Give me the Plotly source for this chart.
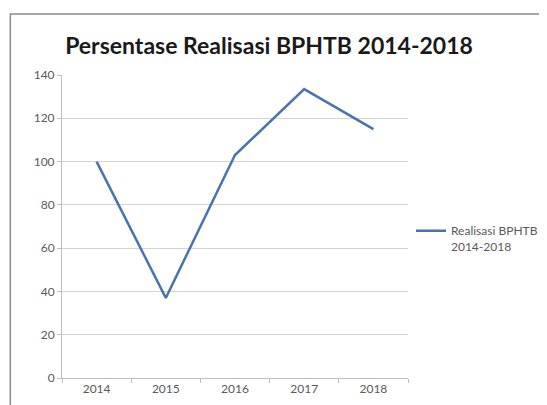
import plotly.graph_objects as go

years = ["2014", "2015", "2016", "2017", "2018"]
realisasi = [100, 37, 103, 133.5, 115]
series_name = "Realisasi BPHTB<br>2014-2018"
title_text = "Persentase Realisasi BPHTB 2014-2018"

# page body has an 8px margin; work in screen coords and shift
OFF = 8
W, H = 547, 405
SL, SR, ST, SB = 62, 410, 75, 378  # plot area in screen coords
L = SL - OFF
T = ST - OFF
R = W - (SR - OFF)
B = H - (SB - OFF)
pw, ph = W - L - R, H - T - B

def px(x):
    return (x - OFF - L) / pw

def py(y):
    return (H - B - (y - OFF)) / ph

fig = go.Figure()
fig.add_trace(go.Scatter(
    x=years, y=realisasi, mode="lines", name=series_name,
    line=dict(color="#4a72ad", width=2.5),
))

fig.update_layout(
    width=W, height=H,
    margin=dict(l=L, r=R, t=T, b=B),
    paper_bgcolor="white", plot_bgcolor="white",
    title=dict(text="<b>" + title_text + "</b>", x=(269 - OFF) / W, xanchor="center",
               y=1 - (46 - OFF) / H, yanchor="middle",
               font=dict(family="Lato", size=23, color="#1a1a1a")),
    showlegend=True,
    legend=dict(x=px(413), y=py(239), xanchor="left", yanchor="middle", valign="top",
                font=dict(family="Lato", size=12, color="#595959"),
                bgcolor="rgba(0,0,0,0)", itemwidth=30),
    font=dict(family="Lato", size=12, color="#595959"),
    shapes=[dict(type="rect", xref="paper", yref="paper",
                 x0=px(10), x1=px(600), y0=py(440), y1=py(14),
                 line=dict(color="#8c8c8c", width=1.5), fillcolor="rgba(0,0,0,0)", layer="below")],
)
fig.update_xaxes(type="category", showgrid=False, showline=True, linecolor="#bfbfbf", linewidth=1,
                 ticks="outside", tickson="boundaries", ticklen=4, tickcolor="#bfbfbf",
                 tickfont=dict(size=12, color="#595959"), range=[-0.5, 4.5])
fig.update_yaxes(range=[0, 140], dtick=20, showgrid=True, gridcolor="#d4d4d4", gridwidth=1,
                 showline=True, linecolor="#bfbfbf", linewidth=1, zeroline=False,
                 ticks="outside", ticklen=4, tickcolor="#bfbfbf",
                 tickfont=dict(size=12, color="#595959"))

fig.write_html("out.html")
